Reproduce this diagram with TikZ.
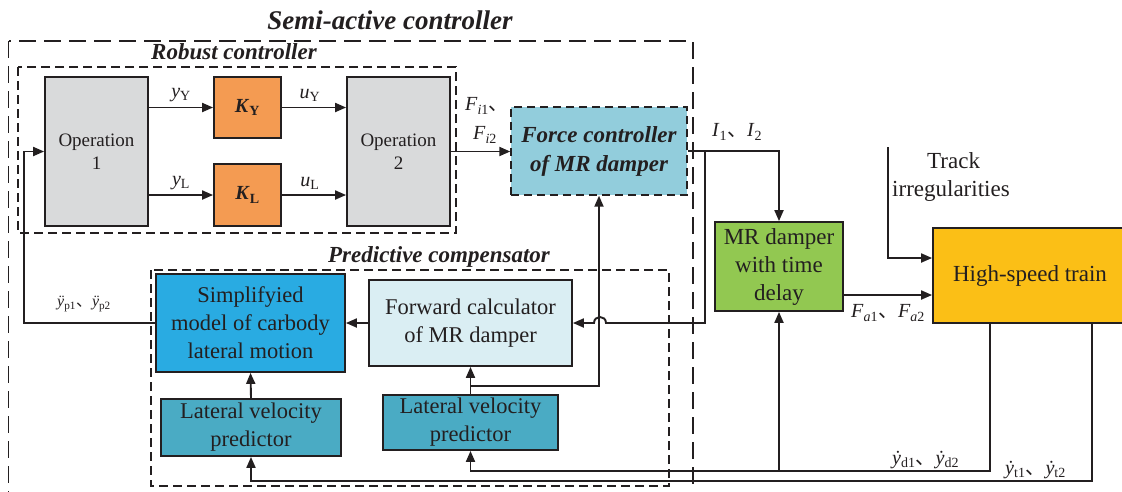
\documentclass[tikz,border=0pt]{standalone}
\usepackage{fontspec}
\setmainfont{Liberation Serif}
\newfontfamily\cjk{Noto Sans CJK SC}
\usetikzlibrary{arrows.meta,calc}
\definecolor{ink}{HTML}{231F20}
\definecolor{opgray}{HTML}{D9DADB}
\definecolor{korange}{HTML}{F49B52}
\definecolor{forcebl}{HTML}{92CDDC}
\definecolor{mrgreen}{HTML}{92C851}
\definecolor{trainy}{HTML}{FBBF16}
\definecolor{simpbl}{HTML}{29ABE2}
\definecolor{fwdbl}{HTML}{DAEEF3}
\definecolor{lvpbl}{HTML}{4AABC4}
\newcommand\dunhao{{\cjk 、}}
\newcommand\sbs[1]{\textsubscript{#1}}
\newcommand\ydt{\textit{ẏ}}
\begin{document}
\begin{tikzpicture}[x=1pt,y=-1pt,
  ln/.style={draw=ink, line width=1.9pt},
  arr/.style={ln, -{Triangle[length=11pt,width=9pt]}},
  blk/.style={draw=ink, line width=1.8pt, align=center, inner sep=0pt, text=ink, font=\fontsize{22.5}{28}\selectfont},
  grp/.style={draw=ink, line width=1.4pt, dash pattern=on 9pt off 5pt},
  grpo/.style={draw=ink, line width=1.5pt, dash pattern=on 17pt off 8pt},
  ttl/.style={font=\fontsize{23}{27}\selectfont\bfseries\itshape, text=ink, inner sep=0pt},
  lbl/.style={font=\fontsize{20}{24}\selectfont, text=ink, inner sep=0pt, align=left},
]
\clip (0,0) rectangle (1122,491);
\fill[white] (0,0) rectangle (1122,491);

% group frames
\draw[grpo] (8.5,41) rectangle (693,520);
\draw[grp] (18,67) rectangle (456,233);
\draw[grp] (151,270) rectangle (669,486);
\node[ttl, font=\fontsize{27}{30}\selectfont\bfseries\itshape] (tsemi) at (390,20) {Semi-active controller};
\node[ttl] (trob) at (234,52) {Robust controller};
\node[ttl] (tpred) at (439,257) {Predictive compensator};

% blocks
\node[blk, fill=opgray, minimum width=103pt, minimum height=149pt, font=\fontsize{19}{23}\selectfont] (op1) at (96.5,151.5) {Operation\\1};
\node[blk, fill=korange, minimum width=67pt, minimum height=61pt, font=\fontsize{20}{24}\selectfont\bfseries] (ky) at (247.5,107.5) {\textit{K}\sbs{Y}};
\node[blk, fill=korange, minimum width=67pt, minimum height=62pt, font=\fontsize{20}{24}\selectfont\bfseries] (kl) at (247.5,195) {\textit{K}\sbs{L}};
\node[blk, fill=opgray, minimum width=103pt, minimum height=149pt, font=\fontsize{19}{23}\selectfont] (op2) at (398.5,151.5) {Operation\\2};
\node[blk, fill=forcebl, dash pattern=on 8pt off 5pt, line width=1.4pt, minimum width=176pt, minimum height=88pt, font=\fontsize{23}{29}\selectfont\bfseries\itshape] (force) at (599,151) {Force controller\\of MR damper};
\node[blk, fill=mrgreen, minimum width=128pt, minimum height=89pt, font=\fontsize{23}{28}\selectfont] (mr) at (779,266.5) {MR damper\\with time\\delay};
\node[blk, fill=trainy, minimum width=194pt, minimum height=95pt, font=\fontsize{23}{27}\selectfont] (train) at (1030,275.5) {High-speed train};
\node[blk, fill=simpbl, minimum width=189pt, minimum height=98pt] (simp) at (250.5,323) {Simplifyied\\model of carbody\\lateral motion};
\node[blk, fill=fwdbl, minimum width=203pt, minimum height=86pt] (fwd) at (470.5,323) {Forward calculator\\of MR damper};
\node[blk, fill=lvpbl, minimum width=180pt, minimum height=57pt] (lvp1) at (251,427.5) {Lateral velocity\\predictor};
\node[blk, fill=lvpbl, minimum width=175pt, minimum height=55pt] (lvp2) at (470.5,422.5) {Lateral velocity\\predictor};

% connectors inside robust controller
\draw[arr] (op1.east |- ky.west) -- (ky.west);
\draw[arr] (op1.east |- kl.west) -- (kl.west);
\draw[arr] (ky.east) -- (ky.east -| op2.west);
\draw[arr] (kl.east) -- (kl.east -| op2.west);
\draw[arr] (op2.east) -- (op2.east -| force.west);

% force controller output
\coordinate (br1) at (705,151);
\draw[arr] (force.east) -- (force.east -| mr.north) -- (mr.north);
\draw[arr] (br1) -- (705,323) -- (606,323) .. controls (606,315) and (594,315) .. (594,323) -- (fwd.east);

% predictive compensator
\draw[arr] (fwd.west) -- (simp.east);
\coordinate (fb) at (24,323);
\draw[arr] (simp.west) -- (fb) |- (op1.west);
\draw[arr] (lvp1.north) -- (simp.south);
\draw[arr] (lvp2.north) -- (fwd.south);
\coordinate (j2) at (470.5,386);
\draw[arr] (j2) -| (force.south);

% train side
\coordinate (tr) at (888,147);
\coordinate (tr2) at (888,258);
\draw[arr] (tr) -- (tr2) -- (tr2 -| train.west);
\coordinate (mo) at (843,295);
\draw[arr] (mo) -- (mo -| train.west);

% feedback lines from train
\coordinate (td) at (990,471);
\draw[arr] (td |- train.south) -- (td) -- (td -| lvp2.south) -- (lvp2.south);
\draw[arr] (td -| mr.south) -- (mr.south);
\coordinate (tt) at (1092,481);
\draw[arr] (tt |- train.south) -- (tt) -- (tt -| lvp1.south) -- (lvp1.south);

% labels
\node[lbl] (lyy) at (181,95) {\textit{y}\sbs{Y}};
\node[lbl] (luy) at (310,95) {\textit{u}\sbs{Y}};
\node[lbl] (lyl) at (181,183) {\textit{y}\sbs{L}};
\node[lbl] (lul) at (310,183) {\textit{u}\sbs{L}};
\node[lbl, anchor=west] (lf1) at (465,106) {\textit{F}\sbs{\textit{i}1}\dunhao};
\node[lbl, anchor=west] (lf2) at (473,135) {\textit{F}\sbs{\textit{i}2}};
\node[lbl, anchor=west] (li) at (712,132) {\textit{I}\sbs{1}\dunhao\textit{I}\sbs{2}};
\node[lbl, anchor=west] (lfa) at (851,313) {\textit{F}\sbs{\textit{a}1}\dunhao\textit{F}\sbs{\textit{a}2}};
\node[lbl, anchor=west] (lyd) at (892,460) {\ydt\sbs{d1}\dunhao\ydt\sbs{d2}};
\node[lbl, anchor=west] (lyt) at (1005,470) {\ydt\sbs{t1}\dunhao\ydt\sbs{t2}};
\node[lbl, anchor=west, font=\fontsize{16}{20}\selectfont] (lyp) at (57,304) {\textit{ÿ}\sbs{p1}\dunhao\textit{ÿ}\sbs{p2}};
\node[lbl, font=\fontsize{23}{28}\selectfont, align=left, anchor=north west] (ltrack) at (892,152) {\hspace*{35pt}Track\\irregularities};
\end{tikzpicture}
\end{document}
